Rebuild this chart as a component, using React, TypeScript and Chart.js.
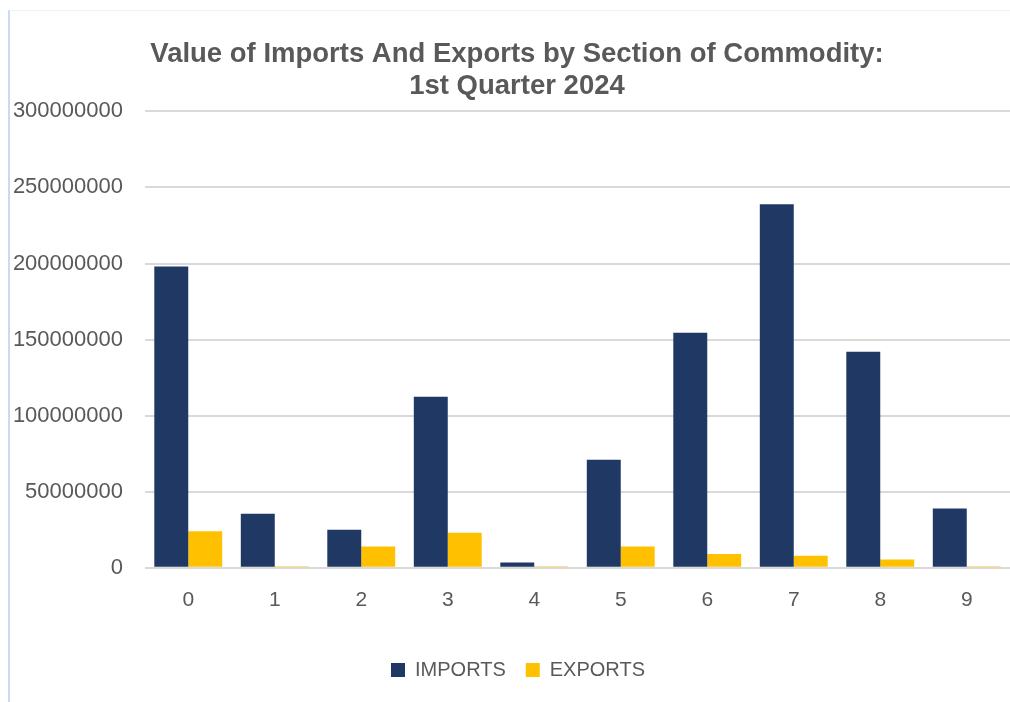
import React, { useEffect, useRef } from "react";
import { Chart, registerables } from "chart.js";

Chart.register(...registerables);

const categories = ["0", "1", "2", "3", "4", "5", "6", "7", "8", "9"];
const imports = [198000000, 35500000, 25000000, 112500000, 3500000, 71000000, 154500000, 239000000, 142000000, 39000000];
const exportsData = [24000000, 1000000, 14000000, 23000000, 1000000, 14000000, 9000000, 8000000, 5500000, 1000000];
const titleLines = ["Value of Imports And Exports by Section of Commodity:", "1st Quarter 2024"];

const TEXT = "#595959";
const FONT = "'Liberation Sans', Arial, sans-serif";

const shiftBlocks = {
  id: "shiftBlocks",
  afterLayout(chart: any) {
    if (chart.titleBlock) chart.titleBlock.left += 24;
    if (chart.legend) chart.legend.left += 26;
  },
};

export default function App() {
  const ref = useRef<HTMLCanvasElement | null>(null);

  useEffect(() => {
    document.body.style.margin = "0";
    const ctx = ref.current!;
    const chart = new Chart(ctx, {
      type: "bar",
      data: {
        labels: categories,
        datasets: [
          { label: "IMPORTS", data: imports, backgroundColor: "#203864", borderWidth: 0 },
          { label: "EXPORTS", data: exportsData, backgroundColor: "#ffc000", borderWidth: 0 },
        ],
      },
      plugins: [shiftBlocks],
      options: {
        animation: false,
        responsive: false,
        devicePixelRatio: 1,
        layout: { padding: { top: 24, left: 0, right: 0, bottom: 12 } },
        datasets: { bar: { categoryPercentage: 0.785, barPercentage: 1 } },
        plugins: {
          title: {
            display: true,
            text: titleLines,
            color: TEXT,
            font: { family: FONT, size: 27.5, weight: "bold", lineHeight: 1.17 },
            padding: { top: 14, bottom: 9 },
          },
          legend: {
            position: "bottom",
            labels: {
              color: TEXT,
              font: { family: FONT, size: 20 },
              boxWidth: 14,
              boxHeight: 14,
              padding: 20,
            },
          },
          tooltip: { enabled: false },
        },
        scales: {
          x: {
            afterFit: (s: any) => { s.height = s.height + 7; },
            grid: { display: false, drawTicks: false },
            border: { display: false },
            ticks: { color: TEXT, font: { family: FONT, size: 21 }, padding: 20 },
          },
          y: {
            min: 0,
            max: 300000000,
            afterFit: (s: any) => { s.width = 145; },
            grid: { color: "#d9d9d9", lineWidth: 2, drawTicks: false },
            border: { display: false },
            ticks: {
              stepSize: 50000000,
              color: TEXT,
              font: { family: FONT, size: 22 },
              padding: 22,
              callback: (v: any) => String(v),
            },
          },
        },
      },
    });
    return () => chart.destroy();
  }, []);

  return (
    <div style={{ position: "relative", width: 1010, height: 702, background: "#fff" }}>
      <canvas ref={ref} width={1010} height={702} style={{ display: "block" }} />
      <div
        style={{
          position: "absolute",
          left: 8,
          top: 10,
          right: 0,
          bottom: 0,
          borderLeft: "2px solid #c8dbf0",
          borderTop: "1px solid #eef3f9",
          pointerEvents: "none",
        }}
      />
    </div>
  );
}
